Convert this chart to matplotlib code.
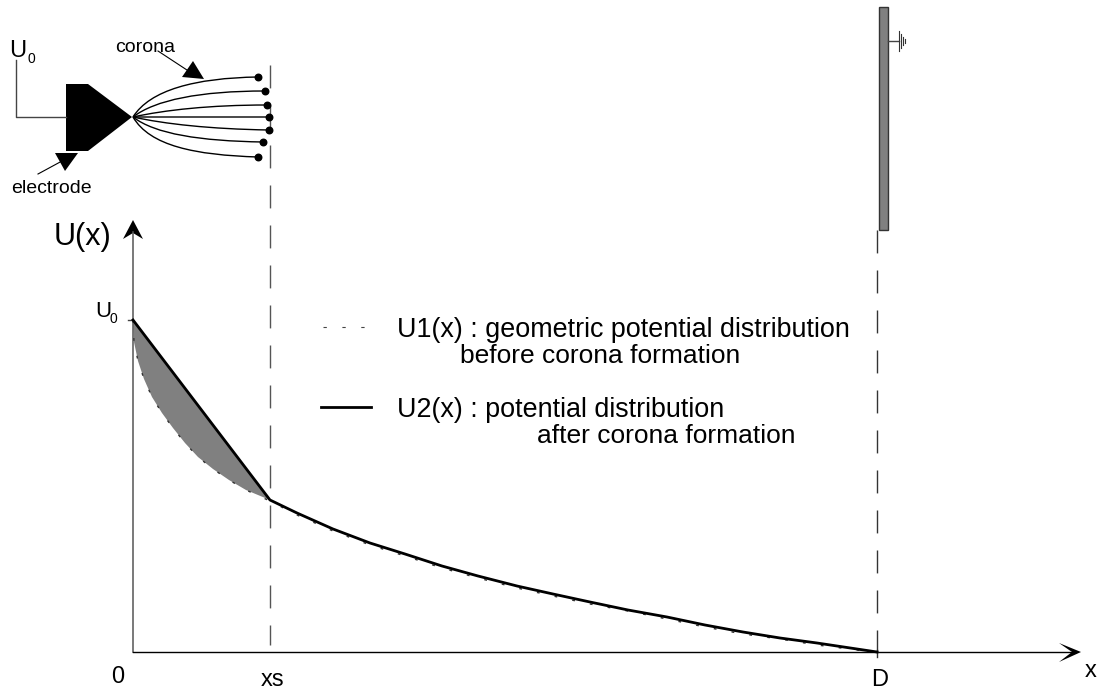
import matplotlib
matplotlib.use("Agg")
import matplotlib.pyplot as plt
from matplotlib.path import Path
from matplotlib.patches import PathPatch, Polygon, Rectangle

plt.rcParams['font.family'] = ['Liberation Sans', 'DejaVu Sans']

# everything in pixels
u1_x = [133, 134, 138, 144, 152, 162, 173, 185, 198, 213, 229, 246, 270, 297, 333, 370, 405, 442, 478, 517, 553, 590, 628, 667, 705, 743, 780, 817, 857, 877]
u1_y = [320, 342, 361, 379, 397, 413, 428, 443, 457, 469, 480, 490, 501, 515, 531, 545, 556, 568, 578, 588, 596, 604, 611, 619, 627, 634, 639, 645, 650, 652]
u2_x = [133, 270, 297, 333, 370, 405, 442, 478, 517, 553, 590, 628, 667, 705, 743, 780, 817, 857, 877]
u2_y = [320, 500, 513, 529, 543, 554, 566, 576, 586, 594, 602, 610, 617, 625, 632, 638, 643, 649, 652]
shade_x = [133, 134, 138, 144, 152, 162, 173, 185, 198, 213, 229, 246, 270]
shade_y = [320, 342, 361, 379, 397, 413, 428, 443, 457, 469, 480, 490, 500]

# corona wires: control points, tip is the same for all
tip = (133, 117)
wire_c1 = [(150, 90), (155, 100), (165, 110), (170, 117), (165, 124), (155, 134), (150, 146)]
wire_c2 = [(195, 78), (200, 91), (210, 105), (220, 117), (210, 129), (200, 141), (195, 155)]
wire_end = [(258, 77), (265, 91), (267, 105), (269, 117), (269, 130), (263, 142), (258, 157)]

electrode = [(66, 84), (88, 84), (132, 117), (88, 151), (66, 151)]
corona_arrow = [(193, 61), (182, 77), (204, 79)]
electrode_arrow = [(55, 153), (78, 153), (65, 171)]
y_arrow = [(133, 220), (143, 239), (133, 233), (123, 239)]
x_arrow = [(1081, 652), (1059, 662), (1072, 652), (1059, 643)]

fig = plt.figure(figsize=(11.03, 6.91), dpi=100)
ax = fig.add_axes([0, 0, 1, 1])
ax.set_xlim(0, 1103)
ax.set_ylim(691, 0)
ax.axis('off')

# axes
ax.plot([133, 133], [652, 232], color='#555555', lw=1.1)
ax.plot([133, 1075], [652, 652], color='black', lw=1)
ax.add_patch(Polygon(y_arrow, closed=True, color='black', lw=0))
ax.add_patch(Polygon(x_arrow, closed=True, color='black', lw=0))
ax.plot([128, 133], [320, 320], color='#444444', lw=1)

# dashed verticals
ax.plot([270, 270], [65, 645], color='#555555', lw=1, dashes=(16.5, 12.3))
ax.plot([877, 877], [230, 653], color='#333333', lw=1, dashes=(16.5, 12.3))
ax.plot([877, 877], [650, 657], color='#333333', lw=1)

# curves
ax.fill(shade_x, shade_y, color='#808080', lw=0)
ax.plot(u1_x, u1_y, color='#333333', lw=1, dashes=(2, 11))
ax.plot(u2_x, u2_y, color='black', lw=2)

# electrode and wires
ax.add_patch(Polygon(electrode, closed=True, color='black', lw=0))
ax.plot([16, 16, 66], [60, 117, 117], color='#444444', lw=1)
codes = [Path.MOVETO, Path.CURVE4, Path.CURVE4, Path.CURVE4]
for c1, c2, end in zip(wire_c1, wire_c2, wire_end):
    ax.add_patch(PathPatch(Path([tip, c1, c2, end], codes), fc='none', ec='black', lw=1))
    ax.plot(end[0], end[1], 'o', color='black', ms=4.7)
ax.add_patch(Polygon(corona_arrow, closed=True, color='black', lw=0))
ax.add_patch(Polygon(electrode_arrow, closed=True, color='black', lw=0))
ax.plot([158, 190], [51, 72], color='black', lw=0.8)
ax.plot([38, 62], [174, 161], color='black', lw=0.8)

# grounded plate
ax.add_patch(Rectangle((879, 7), 9, 223, fc='#808080', ec='#333333', lw=1))
ax.plot([888, 899], [41, 41], color='#444444', lw=1)
for gx, half in zip([899, 901, 903, 905], [10, 7, 4, 2]):
    ax.plot([gx, gx], [41 - half, 41 + half], color='#333333', lw=0.8)

# legend keys
ax.plot([323, 365], [327, 327], color='#444444', lw=0.8, dashes=(3, 14))
ax.plot([321, 371], [407, 407], color='black', lw=2)

# text
ax.text(9, 57, "U", fontsize=17, va='baseline')
ax.text(27, 63, "0", fontsize=10, va='baseline')
ax.text(115, 52, "corona", fontsize=14, va='baseline')
ax.text(11, 193, "electrode", fontsize=14, va='baseline')
ax.text(54, 245, "U(x)", fontsize=22, va='baseline')
ax.text(95, 317, "U", fontsize=16, va='baseline')
ax.text(110, 323, "0", fontsize=10, va='baseline')
ax.text(397, 337, "U1(x) : geometric potential distribution", fontsize=19.4, va='baseline')
ax.text(460, 363, "before corona formation", fontsize=19, va='baseline')
ax.text(397, 417, "U2(x) : potential distribution", fontsize=19.4, va='baseline')
ax.text(537, 443, "after corona formation", fontsize=19, va='baseline')
ax.text(111, 683, "0", fontsize=17, va='baseline')
ax.text(261, 686, "xs", fontsize=17, va='baseline')
ax.text(871, 686, "D", fontsize=17, va='baseline')
ax.text(1085, 677, "x", fontsize=17, va='baseline')

fig.savefig('out.png', dpi=100)
